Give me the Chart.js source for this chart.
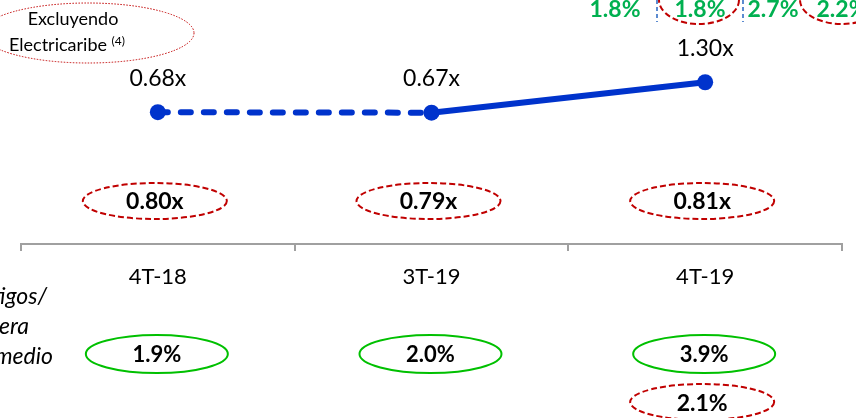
<!DOCTYPE html>
<html>
<head>
<meta charset="utf-8">
<script src="https://cdn.jsdelivr.net/npm/chart.js@4.4.1/dist/chart.umd.min.js"></script>
<style>
  html, body { margin: 0; padding: 0; background: #fff; }
  #wrap { position: relative; width: 856px; height: 418px; }
</style>
</head>
<body>
<div id="wrap"><canvas id="chart"></canvas></div>
<script>
/* globals Chart:false */

// Datos
const periods = ['4T-18', '3T-19', '4T-19'];
const coverage = [0.68, 0.67, 1.30];          // linea azul
const coverageExcl = [0.80, 0.79, 0.81];       // ovalos rojos (excluyendo Electricaribe)
const writeOffRatio = [1.9, 2.0, 3.9];         // ovalos verdes
const writeOffExcl = [null, null, 2.1];        // ovalo rojo inferior
const topRowValues = ['1.8%', '1.8%', '2.7%', '2.2%']; // fila cortada arriba

const FONT = 'Lato, "Open Sans", sans-serif';
const BLUE = '#0033cc';
const RED = '#c00000';
const GREEN = '#00c000';
const GREEN_TXT = '#00b050';

function ellipse(ctx, cx, cy, rx, ry, color, dash, width) {
  ctx.save();
  ctx.beginPath();
  ctx.ellipse(cx, cy, rx, ry, 0, 0, Math.PI * 2);
  ctx.strokeStyle = color;
  ctx.lineWidth = width || 2;
  ctx.setLineDash(dash || []);
  ctx.stroke();
  ctx.restore();
}

function text(ctx, str, x, y, font, color, align) {
  ctx.save();
  ctx.font = font;
  ctx.fillStyle = color || '#000';
  ctx.textAlign = align || 'center';
  ctx.textBaseline = 'middle';
  ctx.fillText(str, x, y);
  ctx.restore();
}

const annotations = {
  id: 'annotations',
  afterDatasetsDraw(chart) {
    const ctx = chart.ctx;
    const xs = chart.scales.x;
    const meta = chart.getDatasetMeta(0);

    // etiquetas de la linea
    meta.data.forEach((pt, i) => {
      text(ctx, coverage[i].toFixed(2) + 'x', pt.x, pt.y - 34, '23px ' + FONT, '#000');
    });

    periods.forEach((p, i) => {
      const cx = xs.getPixelForValue(i);
      // excluyendo Electricaribe
      ellipse(ctx, cx - 3, 201, 72, 18, RED, [6, 3], 2);
      text(ctx, coverageExcl[i].toFixed(2) + 'x', cx - 3, 202, 'bold 23px ' + FONT, '#000');
      // castigos / cartera promedio
      ellipse(ctx, cx - 1, 354, 71, 19, GREEN, [], 2);
      text(ctx, writeOffRatio[i].toFixed(1) + '%', cx - 1, 355, 'bold 22px ' + FONT, '#000');
      if (writeOffExcl[i] != null) {
        ellipse(ctx, cx - 3, 402, 72, 18, RED, [6, 3], 2);
        text(ctx, writeOffExcl[i].toFixed(1) + '%', cx - 3, 404, 'bold 23px ' + FONT, '#000');
      }
    });

    // nota superior izquierda
    ellipse(ctx, 88, 33, 106, 30, RED, [1.5, 1.5], 1);
    text(ctx, 'Excluyendo', 73, 19, '18px ' + FONT, '#000');
    ctx.save();
    ctx.font = '18px ' + FONT;
    const w = ctx.measureText('Electricaribe ').width;
    ctx.restore();
    text(ctx, 'Electricaribe', 9, 45, '18px ' + FONT, '#000', 'left');
    text(ctx, '(4)', 9 + w, 41, '12px ' + FONT, '#000', 'left');

    // titulo lateral cortado
    text(ctx, 'Castigos/', 47, 297, 'italic 23px ' + FONT, '#000', 'right');
    text(ctx, 'cartera', 29, 327, 'italic 23px ' + FONT, '#000', 'right');
    text(ctx, 'promedio', 53, 357, 'italic 23px ' + FONT, '#000', 'right');

    // fila superior cortada
    const topX = [615, 700, 773, 842];
    topRowValues.forEach((v, i) => {
      text(ctx, v, topX[i], 10, 'bold 23px ' + FONT, GREEN_TXT);
    });
    ellipse(ctx, 699, 0, 40, 24, RED, [6, 3], 2);
    ellipse(ctx, 842, 0, 42, 24, RED, [6, 3], 2);
    ctx.save();
    ctx.strokeStyle = '#5b8bd0';
    ctx.lineWidth = 2;
    ctx.setLineDash([4, 3]);
    [657, 743].forEach(x => {
      ctx.beginPath();
      ctx.moveTo(x, 0);
      ctx.lineTo(x, 22);
      ctx.stroke();
    });
    ctx.restore();
  }
};

new Chart(document.getElementById('chart'), {
  type: 'line',
  data: {
    labels: periods,
    datasets: [{
      data: coverage,
      borderColor: BLUE,
      backgroundColor: BLUE,
      borderWidth: 6,
      borderCapStyle: 'round',
      pointRadius: 8,
      pointHoverRadius: 8,
      pointBackgroundColor: BLUE,
      pointBorderWidth: 0,
      tension: 0,
      fill: false,
      segment: {
        borderDash: c => c.p0DataIndex === 0 ? [10, 13] : undefined
      }
    }]
  },
  options: {
    responsive: true,
    maintainAspectRatio: false,
    animation: false,
    layout: { padding: { left: 21, right: 14, top: 0, bottom: 0 } },
    plugins: { legend: { display: false }, tooltip: { enabled: false } },
    scales: {
      x: {
        offset: true,
        grid: { offset: true, drawOnChartArea: false, color: '#a0a0a0', lineWidth: 2, tickLength: 7 },
        border: { color: '#a0a0a0', width: 2 },
        ticks: { color: '#000', font: { family: FONT, size: 22 }, padding: 13 },
        afterFit: s => { s.height = 174; }
      },
      y: { display: false, min: -2.045, max: 2.835 }
    }
  },
  plugins: [annotations]
});
</script>
</body>
</html>
